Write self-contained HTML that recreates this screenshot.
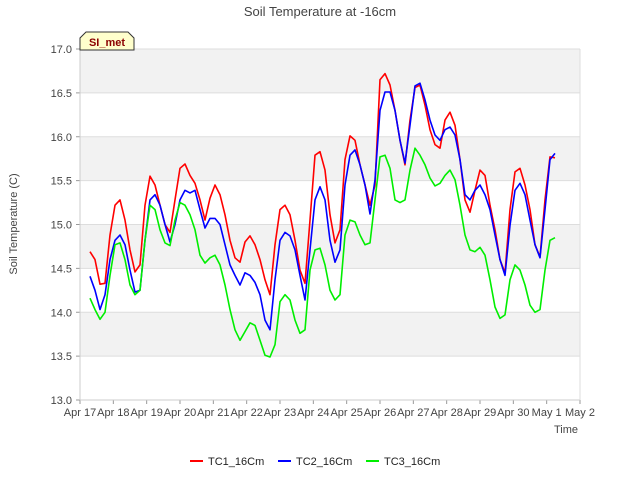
<!DOCTYPE html>
<html><head><meta charset="utf-8"><style>
body{margin:0;background:#fff;font-family:"Liberation Sans",sans-serif}
svg text{font-family:"Liberation Sans","DejaVu Sans",sans-serif}
</style></head><body>
<svg id="chart" width="640" height="480">
<rect width="640" height="480" fill="#fff"/>
<text x="320" y="16" text-anchor="middle" font-size="13" fill="#444">Soil Temperature at -16cm</text>
<g id="plot"></g>
<g>
<path d="M80,50 L80,38 L86,32 L128,32 L134,38 L134,50 Z" fill="#ffffcc" stroke="#333" stroke-width="1"/>
<text x="107" y="46" text-anchor="middle" font-size="11" font-weight="bold" fill="#8b0000">SI_met</text>
</g>
<text transform="translate(17,224) rotate(-90)" text-anchor="middle" font-size="11" fill="#444">Soil Temperature (C)</text>
<text x="566" y="433" text-anchor="middle" font-size="11" fill="#444">Time</text>
<g id="legend"></g>
</svg>
<script>
const red=[14.69,14.60,14.32,14.33,14.88,15.22,15.28,15.05,14.71,14.46,14.54,15.22,15.55,15.45,15.22,15.00,14.91,15.28,15.64,15.69,15.56,15.47,15.28,15.05,15.30,15.45,15.34,15.11,14.82,14.62,14.57,14.80,14.87,14.77,14.60,14.37,14.20,14.77,15.17,15.22,15.11,14.82,14.48,14.33,15.05,15.79,15.83,15.62,15.11,14.79,14.94,15.74,16.01,15.96,15.68,15.45,15.22,15.45,16.65,16.72,16.59,16.30,15.96,15.68,16.19,16.56,16.59,16.36,16.08,15.91,15.87,16.19,16.28,16.13,15.74,15.28,15.14,15.39,15.62,15.56,15.22,14.94,14.60,14.45,15.17,15.60,15.64,15.45,15.17,14.77,14.63,15.28,15.77,15.76];
const blue=[14.41,14.25,14.03,14.20,14.60,14.82,14.88,14.77,14.48,14.23,14.25,14.82,15.28,15.34,15.22,15.00,14.80,15.00,15.28,15.39,15.36,15.39,15.17,14.96,15.07,15.07,15.00,14.77,14.54,14.42,14.31,14.45,14.42,14.34,14.20,13.91,13.80,14.37,14.82,14.91,14.87,14.71,14.42,14.14,14.71,15.28,15.43,15.28,14.82,14.57,14.71,15.45,15.79,15.85,15.68,15.45,15.12,15.51,16.30,16.51,16.51,16.30,15.96,15.70,16.13,16.58,16.61,16.42,16.19,16.02,15.96,16.08,16.11,16.02,15.74,15.34,15.28,15.39,15.45,15.34,15.17,14.88,14.60,14.42,14.99,15.39,15.47,15.34,15.05,14.77,14.62,15.17,15.74,15.81];
const green=[14.16,14.03,13.92,14.00,14.42,14.77,14.79,14.60,14.31,14.20,14.25,14.82,15.22,15.17,14.94,14.79,14.76,15.05,15.25,15.22,15.11,14.94,14.65,14.56,14.62,14.65,14.54,14.31,14.03,13.80,13.68,13.78,13.88,13.85,13.68,13.51,13.49,13.63,14.12,14.20,14.14,13.91,13.76,13.80,14.48,14.71,14.73,14.54,14.25,14.14,14.20,14.88,15.05,15.03,14.88,14.77,14.79,15.28,15.77,15.79,15.64,15.28,15.25,15.28,15.62,15.87,15.79,15.68,15.53,15.44,15.47,15.56,15.62,15.51,15.22,14.88,14.71,14.69,14.74,14.65,14.37,14.06,13.93,13.97,14.37,14.54,14.48,14.31,14.08,14.00,14.03,14.48,14.82,14.85];
const startDay=0.3, stepDay=0.15;
const yTicks=[13.0,13.5,14.0,14.5,15.0,15.5,16.0,16.5,17.0];
const xTickLabels=["Apr 17","Apr 18","Apr 19","Apr 20","Apr 21","Apr 22","Apr 23","Apr 24","Apr 25","Apr 26","Apr 27","Apr 28","Apr 29","Apr 30","May 1","May 2"];
const seriesNames=["TC1_16Cm","TC2_16Cm","TC3_16Cm"];
const colors=["#ff0000","#0000ff","#00ee00"];

const NS="http://www.w3.org/2000/svg";
const X0=80,X1=580,Y0=400,Y1=49;
const xs=d=>X0+(d/15)*(X1-X0);
const ys=v=>Y0-(v-13)/4*(Y0-Y1);
function mk(t,a,p){const e=document.createElementNS(NS,t);for(const k in a)e.setAttribute(k,a[k]);p.appendChild(e);return e;}
const plot=document.getElementById('plot');
for(let i=0;i<yTicks.length-1;i++){
  if(i%2===1){const b=mk('rect',{x:X0,y:ys(yTicks[i+1]),width:X1-X0,height:ys(yTicks[i])-ys(yTicks[i+1]),fill:'#f2f2f2'},plot);
  
  }
}
yTicks.forEach(v=>{
  const l=mk('line',{x1:X0,x2:X1,y1:ys(v),y2:ys(v),stroke:'#dddddd'},plot);
  
  
  mk('line',{x1:X0-4,x2:X0,y1:ys(v),y2:ys(v),stroke:'#999'},plot);
  const t=mk('text',{x:X0-8,y:ys(v)+4,'text-anchor':'end','font-size':'11',fill:'#444'},plot);
  t.textContent=v.toFixed(1);
  
  
});
xTickLabels.forEach((s,i)=>{
  mk('line',{x1:xs(i),x2:xs(i),y1:Y0,y2:Y0+4,stroke:'#999'},plot);
  const t=mk('text',{x:xs(i),y:Y0+16,'text-anchor':'middle','font-size':'11',fill:'#444'},plot);
  t.textContent=s;
  
  
});
mk('line',{x1:X0,x2:X0,y1:Y1,y2:Y0,stroke:'#ccc'},plot);
mk('line',{x1:X0,x2:X1,y1:Y0,y2:Y0,stroke:'#ccc'},plot);
mk('line',{x1:X1,x2:X1,y1:Y1,y2:Y0,stroke:'#ddd'},plot);
[red,blue,green].forEach((arr,si)=>{
  const pts=arr.map((v,i)=>xs(startDay+i*stepDay).toFixed(1)+','+ys(v).toFixed(1)).join(' ');
  const p=mk('polyline',{points:pts,fill:'none',stroke:colors[si],'stroke-width':'1.6','stroke-linejoin':'round'},plot);
  
  
});
const lg=document.getElementById('legend');
const lx=[190,278,366];
seriesNames.forEach((n,i)=>{
  const g=mk('g',{},lg);
  
  
  mk('line',{x1:lx[i],x2:lx[i]+13,y1:461,y2:461,stroke:colors[i],'stroke-width':'2'},g);
  const t=mk('text',{x:lx[i]+18,y:465,'font-size':'11',fill:'#222'},g);
  t.textContent=n;
});
</script>
</body></html>
